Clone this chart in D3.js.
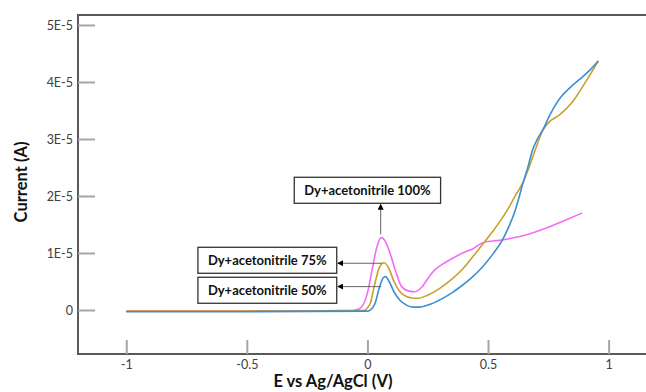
<!DOCTYPE html>
<html>
<head>
<meta charset="utf-8">
<script src="https://cdn.jsdelivr.net/npm/d3@7"></script>
<style>
  body { margin: 0; background: #fff; }
  text { font-family: Lato, "Open Sans", sans-serif; }
  .tick-label { font-size: 12.5px; fill: #404040; }
  .axis-title { font-size: 16.5px; font-weight: bold; fill: #111; }
  .note text { font-size: 13px; font-weight: bold; fill: #111; }
</style>
</head>
<body>
<div id="graph"></div>
<script>
'use strict';

// potentials (V) and currents (units of 1E-5 A)
let eBlue = [-1, -0.5, 0.0, 0.03, 0.05, 0.065, 0.075, 0.09, 0.11, 0.135, 0.16, 0.19, 0.215, 0.26, 0.31, 0.35, 0.38, 0.43, 0.478, 0.52, 0.56, 0.585, 0.609, 0.625, 0.643, 0.665, 0.685, 0.705, 0.727, 0.76, 0.803, 0.84, 0.878, 0.92, 0.957];
let iBlue = [-0.03, -0.03, -0.02, 0.1, 0.4, 0.56, 0.585, 0.5, 0.32, 0.17, 0.09, 0.05, 0.05, 0.1, 0.2, 0.3, 0.39, 0.56, 0.76, 0.98, 1.23, 1.45, 1.70, 1.92, 2.2, 2.5, 2.81, 3.0, 3.16, 3.45, 3.74, 3.90, 4.04, 4.2, 4.37];

let eGold = [-1, -0.5, -0.02, 0.01, 0.03, 0.05, 0.07, 0.09, 0.11, 0.135, 0.16, 0.185, 0.21, 0.25, 0.30, 0.35, 0.395, 0.44, 0.477, 0.52, 0.56, 0.588, 0.615, 0.643, 0.67, 0.70, 0.727, 0.754, 0.795, 0.85, 0.906, 0.957];
let iGold = [-0.02, -0.02, -0.01, 0.1, 0.45, 0.75, 0.83, 0.72, 0.5, 0.32, 0.24, 0.21, 0.205, 0.26, 0.38, 0.54, 0.72, 0.95, 1.15, 1.38, 1.62, 1.81, 2.02, 2.22, 2.5, 2.86, 3.15, 3.30, 3.42, 3.65, 4.01, 4.37];

let ePink = [-1, -0.5, -0.06, -0.03, 0.0, 0.02, 0.04, 0.057, 0.075, 0.095, 0.117, 0.14, 0.165, 0.195, 0.225, 0.255, 0.278, 0.31, 0.35, 0.39, 0.44, 0.478, 0.56, 0.66, 0.75, 0.80, 0.89];
let iPink = [-0.02, -0.02, -0.01, 0.03, 0.3, 0.72, 1.12, 1.27, 1.2, 0.98, 0.68, 0.42, 0.34, 0.32, 0.40, 0.58, 0.70, 0.80, 0.90, 0.99, 1.08, 1.18, 1.23, 1.32, 1.45, 1.54, 1.70];

let xTicks = [-1, -0.5, 0, 0.5, 1];
let xTickLabels = ['-1', '-0.5', '0', '0.5', '1'];
let yTicks = [0, 1, 2, 3, 4, 5];
let yTickLabels = ['0', '1E-5', '2E-5', '3E-5', '4E-5', '5E-5'];

let seriesNames = ['Dy+acetonitrile 100%', 'Dy+acetonitrile 75%', 'Dy+acetonitrile 50%'];
// annotation: box centre (E, I) and arrow start on the curve (E, I)
let noteBoxE = [0.0, -0.415, -0.415];
let noteBoxI = [2.1, 0.872, 0.346];
let noteTipE = [0.055, 0.061, 0.057];
let noteTipI = [1.33, 0.82, 0.41];

let w = 646, h = 392;
let svg = d3.select('#graph').append('svg').attr('width', w).attr('height', h);

let x = d3.scaleLinear().domain([-1.2, 1.155]).range([78, 646]);
let y = d3.scaleLinear().domain([-0.772, 5.175]).range([354, 15]);

// frame: left, top and bottom lines
svg.append('line').attr('x1', 78).attr('x2', 78).attr('y1', 15).attr('y2', 354)
    .attr('stroke', '#595959').attr('stroke-width', 2);
svg.append('line').attr('x1', 77).attr('x2', w).attr('y1', 15).attr('y2', 15)
    .attr('stroke', '#595959').attr('stroke-width', 2);
svg.append('line').attr('x1', 77).attr('x2', w).attr('y1', 354).attr('y2', 354)
    .attr('stroke', '#595959').attr('stroke-width', 2);

// y ticks point inward
let yAxis = d3.axisRight(y).tickValues(yTicks).tickSize(17).tickFormat((d, i) => yTickLabels[i]);
let gy = svg.append('g').attr('transform', 'translate(78,0)').call(yAxis);
gy.select('.domain').remove();
gy.selectAll('.tick line').attr('stroke', '#a6a6a6').attr('stroke-width', 2);
gy.selectAll('.tick text').attr('class', 'tick-label').attr('x', -5).attr('text-anchor', 'end').attr('dy', '0.35em');

// x ticks point upward
let xAxis = d3.axisTop(x).tickValues(xTicks).tickSize(14).tickFormat((d, i) => xTickLabels[i]);
let gx = svg.append('g').attr('transform', 'translate(0,354)').call(xAxis);
gx.select('.domain').remove();
gx.selectAll('.tick line').attr('stroke', '#a6a6a6').attr('stroke-width', 2);
gx.selectAll('.tick text').attr('class', 'tick-label').attr('y', 15).attr('dy', 0);

svg.append('text').attr('class', 'axis-title').attr('text-anchor', 'middle')
    .attr('x', 333).attr('y', 387).text('E vs Ag/AgCl (V)');
svg.append('text').attr('class', 'axis-title').attr('text-anchor', 'middle')
    .attr('transform', 'translate(27,182)rotate(-90)').text('Current (A)');

// curves
let line = d3.line().x(d => x(d[0])).y(d => y(d[1])).curve(d3.curveMonotoneX);
let curves = [
    {e: ePink, i: iPink, color: '#f46cf2'},
    {e: eGold, i: iGold, color: '#c9a02c'},
    {e: eBlue, i: iBlue, color: '#3a8fd5'}
];
curves.forEach(c => {
    svg.append('path').datum(d3.zip(c.e, c.i))
        .attr('d', line).attr('fill', 'none')
        .attr('stroke', c.color).attr('stroke-width', 1.6);
});

// annotations
svg.append('defs').append('marker').attr('id', 'head')
    .attr('viewBox', '0 0 10 10').attr('refX', 9).attr('refY', 5)
    .attr('markerWidth', 6).attr('markerHeight', 6).attr('orient', 'auto')
    .append('path').attr('d', 'M0,0L10,5L0,10Z').attr('fill', '#000');

seriesNames.forEach((name, k) => {
    let g = svg.append('g').attr('class', 'note');
    let cx = x(noteBoxE[k]), cy = y(noteBoxI[k]);
    let t = g.append('text').attr('x', cx).attr('y', cy).attr('dy', '0.36em')
        .attr('text-anchor', 'middle').text(name);
    let bw = t.node().getComputedTextLength() + 20, bh = 26;
    g.insert('rect', 'text').attr('x', cx - bw / 2).attr('y', cy - bh / 2)
        .attr('width', bw).attr('height', bh)
        .attr('fill', '#fff').attr('stroke', '#333').attr('stroke-width', 1.3);
    let tx = x(noteTipE[k]), ty = y(noteTipI[k]);
    let ex, ey;
    if (k === 0) { ex = tx; ey = cy + bh / 2 + 1; }
    else { ex = cx + bw / 2 + 1; ey = ty; }
    g.append('line').attr('x1', tx).attr('y1', ty).attr('x2', ex).attr('y2', ey)
        .attr('stroke', '#666').attr('stroke-width', 1).attr('marker-end', 'url(#head)');
});
</script>
</body>
</html>
